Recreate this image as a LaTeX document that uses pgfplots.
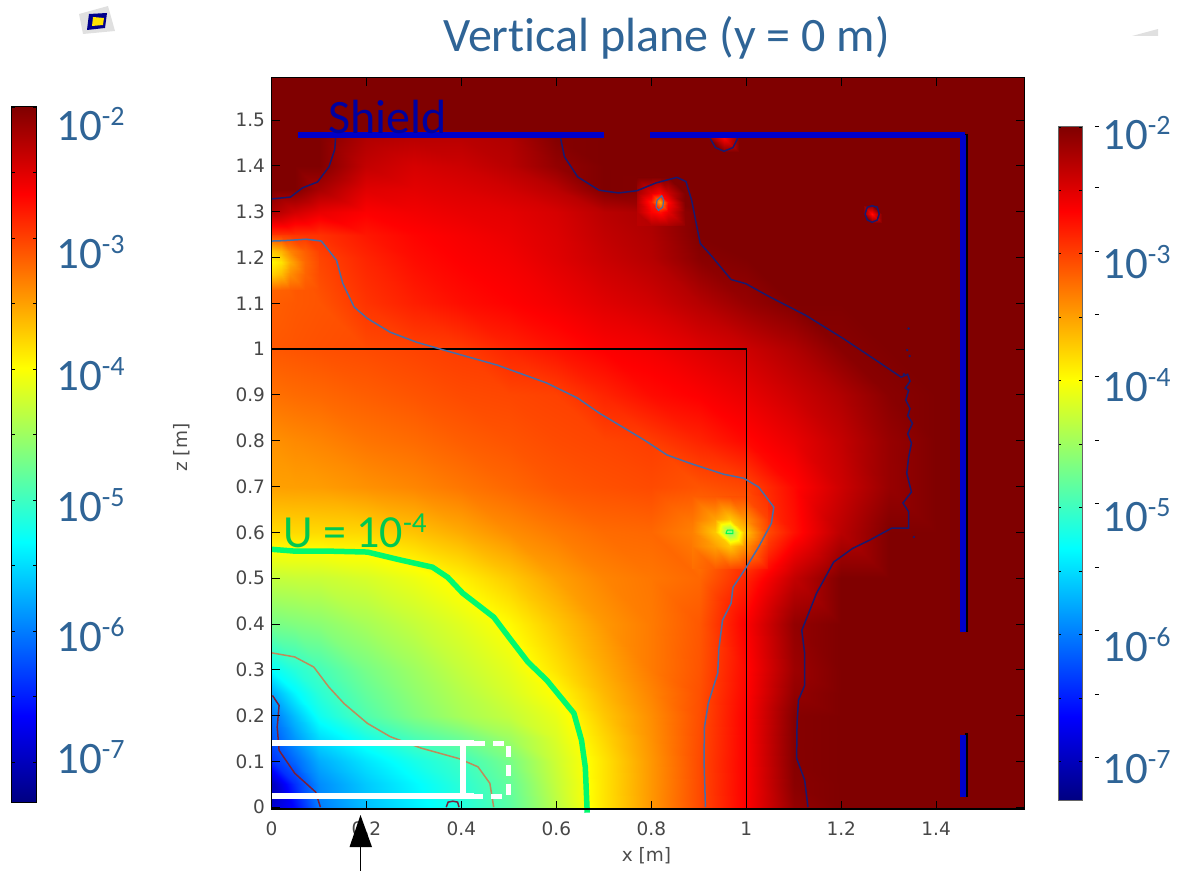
\documentclass[border=0pt]{standalone}
\usepackage{pgfplots}
\usepackage{fontspec}
\pgfplotsset{compat=1.18}
\setmainfont{Carlito}[Ligatures=NoCommon]
\newfontfamily\djv{DejaVu Sans}
\definecolor{slideblue}{RGB}{47,100,150}
\definecolor{ctwo}{RGB}{25,25,110}
\definecolor{cthree}{RGB}{70,110,170}
\definecolor{cfour}{RGB}{0,250,110}
\definecolor{cfive}{RGB}{190,140,90}
\definecolor{csix}{RGB}{120,30,60}
\definecolor{shield}{RGB}{0,0,200}
\newcommand{\decade}[3]{\node[anchor=base west,inner sep=0pt,text=slideblue,font=\fontsize{45}{45}\selectfont] at (#1,#2) {10\raisebox{15pt}{\fontsize{28}{28}\selectfont #3}};}
\pgfplotsset{
  barstyle/.style={scale only axis,width=24pt,xmin=0,xmax=1,ymin=-7.31,ymax=-2,
    colormap/jet,point meta min=-7.31,point meta max=-2,axis on top,
    xtick=\empty,ytick={-7,-6.5,-6,-5.5,-5,-4.5,-4,-3.5,-3,-2.5,-2},yticklabels={},
    tick align=inside,major tick length=3pt,tick style={black,line width=0.8pt},
    axis line style={line width=1pt},clip=false},
  hot/.style={surf,shader=interp,mesh/cols=5,point meta=explicit},
}
\begin{document}
\begin{tikzpicture}[x=1pt,y=1pt]
\path[use as bounding box] (0,0) rectangle (1187,871);
\begin{axis}[
  at={(271.5pt,62pt)},anchor=south west,scale only axis,width=752.5pt,height=731pt,
  xmin=0,xmax=1.585,ymin=-0.004,ymax=1.592,
  colormap/jet,point meta min=-7.31,point meta max=-2,
  axis on top,
  xtick={0,0.2,0.4,0.6,0.8,1,1.2,1.4},
  ytick={0,0.1,0.2,0.3,0.4,0.5,0.6,0.7,0.8,0.9,1,1.1,1.2,1.3,1.4,1.5},
  xticklabel style={yshift=-9pt},
  yticklabel style={xshift=-3pt},
  tick align=inside,major tick length=8pt,tick style={black,line width=0.9pt},
  ticklabel style={font=\djv\fontsize{18.5}{18.5}\selectfont,text=black!72,
    /pgf/number format/assume math mode=true,/pgf/number format/fixed,/pgf/number format/precision=1},
  xlabel={x [m]},ylabel={z [m]},
  label style={font=\djv\fontsize{18.5}{18.5}\selectfont,text=black!70},
  xlabel style={at={(axis cs:0.79,0)},anchor=base,yshift=-54pt},
  ylabel style={at={(axis cs:0,0.785)},anchor=base,yshift=84pt},
  axis line style={line width=1pt},
  clip=false,
]
\addplot[surf,shader=interp,mesh/cols=18,mesh/rows=23,point meta=explicit]
 table[row sep=\\,x=x,y=y,meta=c] {
x y c\\
0 0 -6.9\\ .05 0 -6.6\\ .1 0 -6.0\\ .2 0 -5.65\\ .3 0 -5.4\\ .4 0 -5.15\\ .5 0 -4.85\\ .6 0 -4.35\\ .7 0 -3.85\\ .8 0 -3.45\\ .9 0 -3.05\\ 1 0 -2.65\\ 1.1 0 -2.1\\ 1.2 0 -1.6\\ 1.3 0 -1.6\\ 1.4 0 -1.6\\ 1.5 0 -1.6\\ 1.585 0 -1.6\\
0 .05 -7.0\\ .05 .05 -6.4\\ .1 .05 -5.92\\ .2 .05 -5.6\\ .3 .05 -5.35\\ .4 .05 -5.1\\ .5 .05 -4.8\\ .6 .05 -4.3\\ .7 .05 -3.85\\ .8 .05 -3.45\\ .9 .05 -3.05\\ 1 .05 -2.65\\ 1.1 .05 -2.05\\ 1.2 .05 -1.6\\ 1.3 .05 -1.6\\ 1.4 .05 -1.6\\ 1.5 .05 -1.6\\ 1.585 .05 -1.6\\
0 .1 -6.4\\ .05 .1 -6.1\\ .1 .1 -5.75\\ .2 .1 -5.45\\ .3 .1 -5.2\\ .4 .1 -5.0\\ .5 .1 -4.7\\ .6 .1 -4.25\\ .7 .1 -3.85\\ .8 .1 -3.45\\ .9 .1 -3.05\\ 1 .1 -2.65\\ 1.1 .1 -2.03\\ 1.2 .1 -1.6\\ 1.3 .1 -1.6\\ 1.4 .1 -1.6\\ 1.5 .1 -1.6\\ 1.585 .1 -1.6\\
0 .15 -6.2\\ .05 .15 -5.85\\ .1 .15 -5.5\\ .2 .15 -5.2\\ .3 .15 -4.93\\ .4 .15 -4.75\\ .5 .15 -4.5\\ .6 .15 -4.18\\ .7 .15 -3.78\\ .8 .15 -3.42\\ .9 .15 -3.06\\ 1 .15 -2.65\\ 1.1 .15 -2.03\\ 1.2 .15 -1.6\\ 1.3 .15 -1.6\\ 1.4 .15 -1.6\\ 1.5 .15 -1.6\\ 1.585 .15 -1.6\\
0 .2 -6.05\\ .05 .2 -5.65\\ .1 .2 -5.25\\ .2 .2 -4.9\\ .3 .2 -4.65\\ .4 .2 -4.45\\ .5 .2 -4.3\\ .6 .2 -4.1\\ .7 .2 -3.7\\ .8 .2 -3.4\\ .9 .2 -3.07\\ 1 .2 -2.65\\ 1.1 .2 -2.03\\ 1.2 .2 -1.6\\ 1.3 .2 -1.6\\ 1.4 .2 -1.6\\ 1.5 .2 -1.6\\ 1.585 .2 -1.6\\
0 .25 -5.75\\ .05 .25 -5.35\\ .1 .25 -5.1\\ .2 .25 -4.8\\ .3 .25 -4.57\\ .4 .25 -4.38\\ .5 .25 -4.2\\ .6 .25 -3.98\\ .7 .25 -3.62\\ .8 .25 -3.35\\ .9 .25 -3.08\\ 1 .25 -2.68\\ 1.1 .25 -2.1\\ 1.2 .25 -1.65\\ 1.3 .25 -1.6\\ 1.4 .25 -1.6\\ 1.5 .25 -1.6\\ 1.585 .25 -1.6\\
0 .3 -5.3\\ .05 .3 -5.12\\ .1 .3 -4.97\\ .2 .3 -4.7\\ .3 .3 -4.5\\ .4 .3 -4.3\\ .5 .3 -4.13\\ .6 .3 -3.85\\ .7 .3 -3.55\\ .8 .3 -3.3\\ .9 .3 -3.1\\ 1 .3 -2.7\\ 1.1 .3 -2.15\\ 1.2 .3 -1.7\\ 1.3 .3 -1.6\\ 1.4 .3 -1.6\\ 1.5 .3 -1.6\\ 1.585 .3 -1.6\\
0 .4 -4.7\\ .05 .4 -4.65\\ .1 .4 -4.6\\ .2 .4 -4.45\\ .3 .4 -4.3\\ .4 .4 -4.15\\ .5 .4 -3.97\\ .6 .4 -3.7\\ .7 .4 -3.45\\ .8 .4 -3.3\\ .9 .4 -3.12\\ 1 .4 -2.65\\ 1.1 .4 -2.1\\ 1.2 .4 -1.6\\ 1.3 .4 -1.6\\ 1.4 .4 -1.6\\ 1.5 .4 -1.6\\ 1.585 .4 -1.6\\
0 .5 -4.3\\ .05 .5 -4.28\\ .1 .5 -4.27\\ .2 .5 -4.2\\ .3 .5 -4.08\\ .4 .5 -3.92\\ .5 .5 -3.72\\ .6 .5 -3.5\\ .7 .5 -3.35\\ .8 .5 -3.28\\ .9 .5 -3.2\\ 1 .5 -2.85\\ 1.1 .5 -2.35\\ 1.2 .5 -1.75\\ 1.3 .5 -1.6\\ 1.4 .5 -1.6\\ 1.5 .5 -1.6\\ 1.585 .5 -1.6\\
0 .6 -3.8\\ .05 .6 -3.8\\ .1 .6 -3.8\\ .2 .6 -3.78\\ .3 .6 -3.68\\ .4 .6 -3.55\\ .5 .6 -3.4\\ .6 .6 -3.3\\ .7 .6 -3.22\\ .8 .6 -3.2\\ .9 .6 -3.35\\ 1 .6 -3.3\\ 1.1 .6 -2.75\\ 1.2 .6 -2.3\\ 1.3 .6 -1.95\\ 1.4 .6 -1.6\\ 1.5 .6 -1.6\\ 1.585 .6 -1.6\\
0 .7 -3.5\\ .05 .7 -3.49\\ .1 .7 -3.48\\ .2 .7 -3.42\\ .3 .7 -3.36\\ .4 .7 -3.28\\ .5 .7 -3.2\\ .6 .7 -3.12\\ .7 .7 -3.08\\ .8 .7 -3.05\\ .9 .7 -3.1\\ 1 .7 -3.03\\ 1.1 .7 -2.7\\ 1.2 .7 -2.4\\ 1.3 .7 -2.12\\ 1.4 .7 -1.7\\ 1.5 .7 -1.6\\ 1.585 .7 -1.6\\
0 .8 -3.42\\ .05 .8 -3.38\\ .1 .8 -3.35\\ .2 .8 -3.27\\ .3 .8 -3.22\\ .4 .8 -3.15\\ .5 .8 -3.1\\ .6 .8 -3.05\\ .7 .8 -3.02\\ .8 .8 -2.98\\ .9 .8 -2.85\\ 1 .8 -2.7\\ 1.1 .8 -2.55\\ 1.2 .8 -2.35\\ 1.3 .8 -2.12\\ 1.4 .8 -1.7\\ 1.5 .8 -1.6\\ 1.585 .8 -1.6\\
0 .9 -3.25\\ .05 .9 -3.22\\ .1 .9 -3.2\\ .2 .9 -3.15\\ .3 .9 -3.1\\ .4 .9 -3.05\\ .5 .9 -3.03\\ .6 .9 -3.0\\ .7 .9 -2.85\\ .8 .9 -2.72\\ .9 .9 -2.65\\ 1 .9 -2.55\\ 1.1 .9 -2.4\\ 1.2 .9 -2.25\\ 1.3 .9 -2.05\\ 1.4 .9 -1.7\\ 1.5 .9 -1.6\\ 1.585 .9 -1.6\\
0 1 -3.12\\ .05 1 -3.1\\ .1 1 -3.08\\ .2 1 -3.05\\ .3 1 -3.01\\ .4 1 -2.97\\ .5 1 -2.85\\ .6 1 -2.75\\ .7 1 -2.65\\ .8 1 -2.6\\ .9 1 -2.5\\ 1 1 -2.4\\ 1.1 1 -2.25\\ 1.2 1 -2.05\\ 1.3 1 -1.8\\ 1.4 1 -1.6\\ 1.5 1 -1.6\\ 1.585 1 -1.6\\
0 1.1 -3.15\\ .05 1.1 -3.12\\ .1 1.1 -3.1\\ .2 1.1 -2.93\\ .3 1.1 -2.82\\ .4 1.1 -2.73\\ .5 1.1 -2.67\\ .6 1.1 -2.6\\ .7 1.1 -2.5\\ .8 1.1 -2.42\\ .9 1.1 -2.28\\ 1 1.1 -2.12\\ 1.1 1.1 -1.95\\ 1.2 1.1 -1.7\\ 1.3 1.1 -1.6\\ 1.4 1.1 -1.6\\ 1.5 1.1 -1.6\\ 1.585 1.1 -1.6\\
0 1.2 -3.25\\ .05 1.2 -3.12\\ .1 1.2 -3.02\\ .2 1.2 -2.85\\ .3 1.2 -2.72\\ .4 1.2 -2.65\\ .5 1.2 -2.6\\ .6 1.2 -2.5\\ .7 1.2 -2.38\\ .8 1.2 -2.28\\ .9 1.2 -2.05\\ 1 1.2 -1.8\\ 1.1 1.2 -1.6\\ 1.2 1.2 -1.6\\ 1.3 1.2 -1.6\\ 1.4 1.2 -1.6\\ 1.5 1.2 -1.6\\ 1.585 1.2 -1.6\\
0 1.25 -2.95\\ .05 1.25 -2.92\\ .1 1.25 -2.92\\ .2 1.25 -2.78\\ .3 1.25 -2.68\\ .4 1.25 -2.62\\ .5 1.25 -2.56\\ .6 1.25 -2.48\\ .7 1.25 -2.34\\ .8 1.25 -2.25\\ .9 1.25 -1.97\\ 1 1.25 -1.75\\ 1.1 1.25 -1.6\\ 1.2 1.25 -1.6\\ 1.3 1.25 -1.6\\ 1.4 1.25 -1.6\\ 1.5 1.25 -1.6\\ 1.585 1.25 -1.6\\
0 1.3 -2.25\\ .05 1.3 -2.42\\ .1 1.3 -2.55\\ .2 1.3 -2.65\\ .3 1.3 -2.6\\ .4 1.3 -2.55\\ .5 1.3 -2.52\\ .6 1.3 -2.45\\ .7 1.3 -2.3\\ .8 1.3 -2.22\\ .9 1.3 -1.98\\ 1 1.3 -1.7\\ 1.1 1.3 -1.6\\ 1.2 1.3 -1.6\\ 1.3 1.3 -1.6\\ 1.4 1.3 -1.6\\ 1.5 1.3 -1.6\\ 1.585 1.3 -1.6\\
0 1.35 -1.8\\ .05 1.35 -1.98\\ .1 1.35 -2.2\\ .2 1.35 -2.5\\ .3 1.35 -2.52\\ .4 1.35 -2.48\\ .5 1.35 -2.42\\ .6 1.35 -2.3\\ .7 1.35 -1.99\\ .8 1.35 -2.02\\ .9 1.35 -1.85\\ 1 1.35 -1.6\\ 1.1 1.35 -1.6\\ 1.2 1.35 -1.6\\ 1.3 1.35 -1.6\\ 1.4 1.35 -1.6\\ 1.5 1.35 -1.6\\ 1.585 1.35 -1.6\\
0 1.4 -1.7\\ .05 1.4 -1.8\\ .1 1.4 -1.93\\ .2 1.4 -2.35\\ .3 1.4 -2.45\\ .4 1.4 -2.4\\ .5 1.4 -2.3\\ .6 1.4 -2.1\\ .7 1.4 -1.8\\ .8 1.4 -1.75\\ .9 1.4 -1.7\\ 1 1.4 -1.6\\ 1.1 1.4 -1.6\\ 1.2 1.4 -1.6\\ 1.3 1.4 -1.6\\ 1.4 1.4 -1.6\\ 1.5 1.4 -1.6\\ 1.585 1.4 -1.6\\
0 1.46 -1.6\\ .05 1.46 -1.7\\ .1 1.46 -1.85\\ .2 1.46 -2.25\\ .3 1.46 -2.3\\ .4 1.46 -2.3\\ .5 1.46 -2.25\\ .6 1.46 -2.02\\ .7 1.46 -1.7\\ .8 1.46 -1.65\\ .9 1.46 -1.6\\ 1 1.46 -1.6\\ 1.1 1.46 -1.6\\ 1.2 1.46 -1.6\\ 1.3 1.46 -1.6\\ 1.4 1.46 -1.6\\ 1.5 1.46 -1.6\\ 1.585 1.46 -1.6\\
0 1.48 -1.6\\ .05 1.48 -1.6\\ .1 1.48 -1.6\\ .2 1.48 -1.6\\ .3 1.48 -1.6\\ .4 1.48 -1.6\\ .5 1.48 -1.6\\ .6 1.48 -1.6\\ .7 1.48 -1.6\\ .8 1.48 -1.6\\ .9 1.48 -1.6\\ 1 1.48 -1.6\\ 1.1 1.48 -1.6\\ 1.2 1.48 -1.6\\ 1.3 1.48 -1.6\\ 1.4 1.48 -1.6\\ 1.5 1.48 -1.6\\ 1.585 1.48 -1.6\\
0 1.592 -1.6\\ .05 1.592 -1.6\\ .1 1.592 -1.6\\ .2 1.592 -1.6\\ .3 1.592 -1.6\\ .4 1.592 -1.6\\ .5 1.592 -1.6\\ .6 1.592 -1.6\\ .7 1.592 -1.6\\ .8 1.592 -1.6\\ .9 1.592 -1.6\\ 1 1.592 -1.6\\ 1.1 1.592 -1.6\\ 1.2 1.592 -1.6\\ 1.3 1.592 -1.6\\ 1.4 1.592 -1.6\\ 1.5 1.592 -1.6\\ 1.585 1.592 -1.6\\
};
% local hot spots
\addplot[hot] table[row sep=\\,x=x,y=y,meta=c] {x y c\\
.77 1.27 -2.3\\ .80 1.27 -2.28\\ .818 1.27 -2.27\\ .836 1.27 -2.25\\ .87 1.27 -2.1\\
.77 1.30 -2.3\\ .80 1.30 -2.65\\ .818 1.30 -2.75\\ .836 1.30 -2.55\\ .87 1.30 -2.05\\
.77 1.321 -2.28\\ .80 1.321 -2.8\\ .818 1.321 -3.5\\ .836 1.321 -2.7\\ .87 1.321 -2.0\\
.77 1.342 -2.2\\ .80 1.342 -2.5\\ .818 1.342 -2.65\\ .836 1.342 -2.4\\ .87 1.342 -1.98\\
.77 1.375 -1.99\\ .80 1.375 -2.0\\ .818 1.375 -2.0\\ .836 1.375 -1.95\\ .87 1.375 -1.9\\};
\addplot[surf,shader=interp,mesh/cols=3,point meta=explicit] table[row sep=\\,x=x,y=y,meta=c] {x y c\\
1.245 1.275 -2\\ 1.265 1.275 -2\\ 1.285 1.275 -2\\
1.245 1.295 -2\\ 1.265 1.295 -2.75\\ 1.285 1.295 -2\\
1.245 1.315 -2\\ 1.265 1.315 -2\\ 1.285 1.315 -2\\};
\addplot[surf,shader=interp,mesh/cols=3,point meta=explicit] table[row sep=\\,x=x,y=y,meta=c] {x y c\\
.92 1.43 -2\\ .953 1.43 -2\\ .985 1.43 -2\\
.92 1.462 -2\\ .953 1.462 -2.65\\ .985 1.462 -2\\};
\addplot[hot] table[row sep=\\,x=x,y=y,meta=c] {x y c\\
.885 .52 -3.24\\ .935 .52 -3.13\\ .965 .52 -3.04\\ .995 .52 -2.96\\ 1.045 .52 -2.75\\
.885 .57 -3.3\\ .935 .57 -3.5\\ .965 .57 -3.7\\ .995 .57 -3.45\\ 1.045 .57 -2.94\\
.885 .6 -3.33\\ .935 .6 -3.7\\ .965 .6 -4.7\\ .995 .6 -3.7\\ 1.045 .6 -3.05\\
.885 .63 -3.27\\ .935 .63 -3.5\\ .965 .63 -3.7\\ .995 .63 -3.45\\ 1.045 .63 -3.0\\
.885 .68 -3.15\\ .935 .68 -3.12\\ .965 .68 -3.08\\ .995 .68 -3.07\\ 1.045 .68 -2.9\\};
\addplot[hot] table[row sep=\\,x=x,y=y,meta=c] {x y c\\
0 1.13 -3.2\\ .02 1.13 -3.18\\ .04 1.13 -3.15\\ .07 1.13 -3.12\\ .1 1.13 -3.08\\
0 1.165 -3.75\\ .02 1.165 -3.65\\ .04 1.165 -3.4\\ .07 1.165 -3.18\\ .1 1.165 -3.05\\
0 1.19 -3.95\\ .02 1.19 -3.85\\ .04 1.19 -3.55\\ .07 1.19 -3.2\\ .1 1.19 -3.05\\
0 1.215 -3.7\\ .02 1.215 -3.6\\ .04 1.215 -3.35\\ .07 1.215 -3.15\\ .1 1.215 -3.0\\
0 1.25 -3.0\\ .02 1.25 -2.98\\ .04 1.25 -2.95\\ .07 1.25 -2.93\\ .1 1.25 -2.92\\};
% reference square
\addplot[black,line width=1.3pt] coordinates {(0,1) (1,1) (1,0)};
% contour 1e-2
\addplot[ctwo,line width=1.5pt] coordinates {(0,1.328)(.04,1.332)(.065,1.352)(.097,1.365)(.121,1.398)(.133,1.435)(.135,1.46)};
\addplot[ctwo,line width=1.5pt] coordinates {(.609,1.46)(.617,1.42)(.645,1.376)(.69,1.347)(.731,1.341)(.77,1.346)(.81,1.363)(.854,1.375)(.873,1.366)(.885,1.325)(.903,1.231)(.928,1.202)(.968,1.152)(.999,1.143)(1.046,1.116)(1.125,1.074)(1.203,1.024)(1.267,.98)(1.326,.939)(1.34,.945)(1.345,.93)(1.335,.915)(1.342,.91)(1.336,.889)(1.345,.87)(1.34,.855)(1.35,.838)(1.34,.815)(1.348,.795)(1.342,.764)(1.338,.729)(1.348,.688)(1.33,.664)(1.342,.645)(1.342,.609)(1.306,.609)(1.26,.583)(1.224,.565)(1.184,.535)(1.148,.467)(1.117,.386)(1.123,.336)(1.123,.266)(1.11,.234)(1.107,.183)(1.106,.107)(1.123,.059)(1.13,0)};
\addplot[ctwo,line width=1.5pt] coordinates {(.924,1.46)(.935,1.44)(.953,1.432)(.972,1.44)(.982,1.46)};
\addplot[ctwo,line width=1.5pt] coordinates {(1.25,1.295)(1.255,1.31)(1.265,1.313)(1.276,1.31)(1.28,1.295)(1.276,1.282)(1.265,1.277)(1.255,1.282)(1.25,1.295)};
\addplot[ctwo,only marks,mark=*,mark size=1pt] coordinates {(1.342,1.045)(1.339,.998)(1.344,.985)(1.332,.945)(1.353,.59)};
% contour 1e-3
\addplot[cthree,line width=1.5pt] coordinates {(0,1.236)(.029,1.237)(.073,1.24)(.105,1.236)(.137,1.194)(.15,1.144)(.174,1.092)(.202,1.067)(.25,1.037)(.306,1.015)(.363,.998)(.476,.965)(.58,.926)(.645,.893)(.691,.86)(.786,.801)(.833,.769)(.881,.751)(.952,.727)(.995,.718)(1.026,.699)(1.058,.655)(1.053,.62)(1.026,.568)(.999,.522)(.972,.48)(.968,.445)(.95,.408)(.942,.343)(.94,.293)(.92,.227)(.912,.175)(.911,.103)(.914,0)};
\addplot[cthree,line width=1.2pt] coordinates {(.81,1.31)(.812,1.325)(.822,1.335)(.826,1.325)(.824,1.31)(.815,1.303)(.81,1.31)};
% contour 1e-4
\addplot[cfour,line width=5.5pt] coordinates {(0,.563)(.049,.559)(.121,.559)(.202,.557)(.266,.541)(.339,.524)(.371,.502)(.403,.467)(.468,.415)(.5,.371)(.54,.317)(.58,.277)(.637,.205)(.653,.146)(.661,.087)(.665,-.012)};
\addplot[cfour!70!green,line width=1pt] coordinates {(.957,.597)(.96,.605)(.972,.605)(.972,.597)(.957,.597)};
% contour 1e-5
\addplot[cfive,line width=1.5pt] coordinates {(0,.337)(.049,.328)(.089,.306)(.121,.262)(.153,.226)(.202,.183)(.25,.154)(.315,.129)(.395,.106)(.435,.088)(.46,.052)(.468,0)};
% contour 1e-6
\addplot[csix,line width=1.5pt] coordinates {(.002,.244)(.016,.222)(.012,.175)(.016,.124)(.049,.074)(.093,.033)(.103,0)};
\addplot[csix,line width=1.5pt] coordinates {(.368,0)(.372,.011)(.382,.013)(.392,.011)(.395,0)};
% shield shadow and shield
\addplot[black,line width=2.6pt] coordinates {(1.456,1.467)(1.464,1.467)(1.464,.382)};
\addplot[black,line width=2.6pt] coordinates {(1.464,.162)(1.464,.022)};
\addplot[shield,line width=6pt] coordinates {(.056,1.467)(.70,1.467)};
\addplot[shield,line width=6pt] coordinates {(.798,1.467)(1.46,1.467)};
\addplot[shield,line width=6pt] coordinates {(1.456,1.467)(1.456,.382)};
\addplot[shield,line width=6pt] coordinates {(1.456,.157)(1.456,.022)};
% detector outlines
\addplot[white,line width=6pt] coordinates {(0,.14)(.427,.14)};
\addplot[white,line width=6pt] coordinates {(0,.024)(.427,.024)};
\addplot[white,line width=6pt] coordinates {(.403,.14)(.403,.024)};
\addplot[white,line width=5pt,dash pattern=on 11pt off 8pt] coordinates {(.427,.14)(.5,.14)(.5,.024)(.427,.024)};
\draw[black,line width=2.6pt] (axis cs:0,-.004) -- (axis cs:1.585,-.004);
\draw[black,line width=1.6pt] (axis cs:0,-.004) -- (axis cs:0,1.592);
\end{axis}
% left colour bar
\begin{axis}[barstyle,at={(12pt,68pt)},anchor=south west,height=696pt]
\addplot[surf,shader=interp,mesh/cols=2,point meta=y] table[row sep=\\] {x y\\ 0 -7.31\\ 1 -7.31\\ 0 -2\\ 1 -2\\};
\end{axis}
% right colour bar
\begin{axis}[barstyle,at={(1058pt,70.3pt)},anchor=south west,height=673.7pt,
  axis line style={line width=1pt,black!60}]
\addplot[surf,shader=interp,mesh/cols=2,point meta=y] table[row sep=\\] {x y\\ 0 -7.31\\ 1 -7.31\\ 0 -2\\ 1 -2\\};
\addplot[black,line width=1pt,unbounded coords=jump] coordinates {(1.54,-2)(1.71,-2) (nan,nan) (1.54,-2.48)(1.71,-2.48) (nan,nan) (1.54,-2.98)(1.71,-2.98) (nan,nan) (1.54,-3.48)(1.71,-3.48) (nan,nan) (1.54,-3.97)(1.71,-3.97) (nan,nan) (1.54,-4.47)(1.71,-4.47) (nan,nan) (1.54,-4.97)(1.71,-4.97) (nan,nan) (1.54,-5.47)(1.71,-5.47) (nan,nan) (1.54,-5.97)(1.71,-5.97) (nan,nan) (1.54,-6.47)(1.71,-6.47) (nan,nan) (1.54,-6.97)(1.71,-6.97)};
\end{axis}
% slide text
\node[anchor=base west,inner sep=0pt,text=slideblue,font=\fontsize{48}{48}\selectfont] at (443,819) {Vertical plane (y = 0 m)};
\node[anchor=base west,inner sep=0pt,text={rgb,255:red,0;green,0;blue,160},font=\fontsize{48}{48}\selectfont] at (328,737) {Shield};
\node[anchor=base west,inner sep=0pt,text={rgb,255:red,0;green,200;blue,80},font=\fontsize{46}{46}\selectfont] at (283,323) {U = 10\raisebox{15pt}{\fontsize{29}{29}\selectfont -4}};
\decade{56}{730}{-2}\decade{56}{602}{-3}\decade{56}{480}{-4}\decade{56}{349}{-5}\decade{56}{219}{-6}\decade{56}{97}{-7}
\decade{1102}{721}{-2}\decade{1102}{592}{-3}\decade{1102}{469}{-4}\decade{1102}{339}{-5}\decade{1102}{209}{-6}\decade{1102}{87}{-7}
% arrow
\fill[black] (360.5,56) -- (349.5,24) -- (372,24) -- cycle;
\draw[black,line width=0.8pt] (360.5,24) -- (360.5,0);
% small icons
\fill[black!12] (79,857) -- (108,865) -- (115,840) -- (83,837) -- cycle;
\fill[blue!55!black] (87,841) -- (105,843) -- (107,858) -- (89,857) -- cycle;
\fill[yellow!85!orange] (92,845) -- (103,846) -- (104,853) -- (93,854) -- cycle;
\fill[black!12] (1132,835) -- (1158,842) -- (1158,835) -- cycle;
\end{tikzpicture}
\end{document}
